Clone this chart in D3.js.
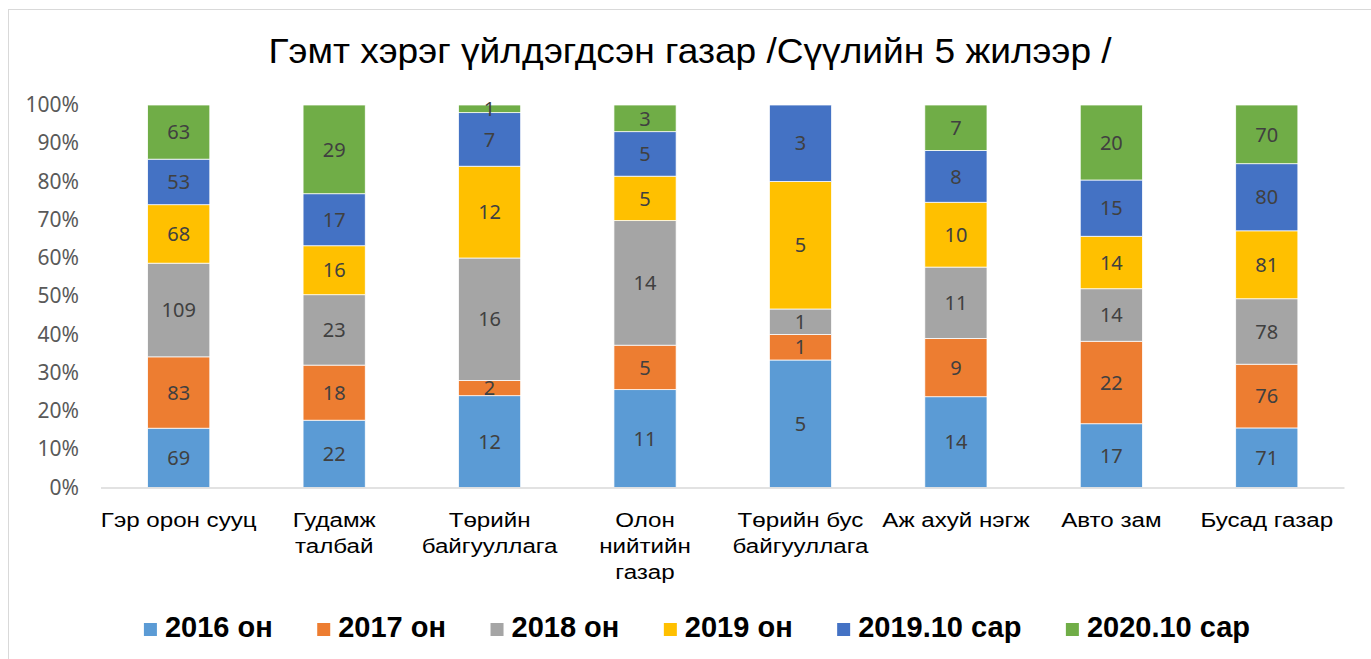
<!DOCTYPE html>
<html>
<head>
<meta charset="utf-8">
<script src="https://cdn.jsdelivr.net/npm/d3@7"></script>
<style>
  html, body { margin: 0; padding: 0; background: #fff; }
  svg { display: block; }
</style>
</head>
<body>
<svg id="chart" width="1371" height="659"></svg>
<script>
// Chart data
const title = 'Гэмт хэрэг үйлдэгдсэн газар /Сүүлийн 5 жилээр /';
const categories = [
  'Гэр орон сууц',
  'Гудамж\nталбай',
  'Төрийн\nбайгууллага',
  'Олон\nнийтийн\nгазар',
  'Төрийн бус\nбайгууллага',
  'Аж ахуй нэгж',
  'Авто зам',
  'Бусад газар'
];
const seriesNames = ['2016 он', '2017 он', '2018 он', '2019 он', '2019.10 сар', '2020.10 сар'];
const seriesColors = ['#5B9BD5', '#ED7D31', '#A5A5A5', '#FFC000', '#4472C4', '#70AD47'];
const v2016 = [69, 22, 12, 11, 5, 14, 17, 71];
const v2017 = [83, 18, 2, 5, 1, 9, 22, 76];
const v2018 = [109, 23, 16, 14, 1, 11, 14, 78];
const v2019 = [68, 16, 12, 5, 5, 10, 14, 81];
const v201910 = [53, 17, 7, 5, 3, 8, 15, 80];
const v202010 = [63, 29, 1, 3, 0, 7, 20, 70];
const yTicks = [0, 0.1, 0.2, 0.3, 0.4, 0.5, 0.6, 0.7, 0.8, 0.9, 1];

const seriesValues = [v2016, v2017, v2018, v2019, v201910, v202010];

// build rows for d3.stack
const rows = categories.map((c, i) => {
  const row = { category: c };
  seriesNames.forEach((s, j) => { row[s] = seriesValues[j][i]; });
  return row;
});

const svg = d3.select('#chart');
const W = 1371, H = 659;
const plot = { left: 101, right: 1344.5, top: 105, bottom: 487.5 };

// outer frame (chart area border)
svg.append('rect')
  .attr('x', 8.5).attr('y', 9.5)
  .attr('width', W + 20).attr('height', H + 20)
  .attr('fill', 'none')
  .attr('stroke', '#d9d9d9')
  .attr('stroke-width', 1);

// title (source text is slightly stretched horizontally)
svg.append('text')
  .attr('transform', 'translate(690,63) scale(1.06,1)')
  .attr('text-anchor', 'middle')
  .style('font-family', '"Liberation Sans", Arial, sans-serif')
  .style('font-size', '35px')
  .style('fill', '#000')
  .text(title);

const x = d3.scaleBand()
  .domain(categories)
  .range([plot.left, plot.right])
  .paddingInner(0.6)
  .paddingOuter(0.3);

const y = d3.scaleLinear()
  .domain([0, 1])
  .range([plot.bottom, plot.top]);

const stack = d3.stack()
  .keys(seriesNames)
  .offset(d3.stackOffsetExpand);
const layers = stack(rows);

// y axis labels (no line, no ticks)
const yAxis = svg.append('g')
  .attr('transform', `translate(${plot.left - 22},0)`)
  .call(d3.axisLeft(y).tickValues(yTicks).tickFormat(d3.format('.0%')).tickSize(0).tickPadding(0));
yAxis.select('.domain').remove();
yAxis.selectAll('text')
  .style('font-family', '"Noto Sans", "Open Sans", sans-serif')
  .style('font-size', '21px')
  .style('fill', '#595959');

// bars
const layerG = svg.append('g')
  .selectAll('g')
  .data(layers)
  .join('g')
  .attr('fill', (d, i) => seriesColors[i]);

layerG.selectAll('rect')
  .data(d => d)
  .join('rect')
  .attr('x', d => x(d.data.category))
  .attr('width', x.bandwidth())
  .attr('y', d => y(d[1]))
  .attr('height', d => y(d[0]) - y(d[1]))
  .attr('stroke', '#fff')
  .attr('stroke-width', 0.75);

// data labels
layers.forEach((layer, i) => {
  svg.append('g')
    .selectAll('text')
    .data(layer.filter(d => d.data[seriesNames[i]] > 0))
    .join('text')
    .attr('x', d => x(d.data.category) + x.bandwidth() / 2)
    .attr('y', d => y((d[0] + d[1]) / 2))
    .attr('dy', '0.36em')
    .attr('text-anchor', 'middle')
    .style('font-family', '"Noto Sans", "Open Sans", sans-serif')
    .style('font-size', '20px')
    .style('fill', '#404040')
    .text(d => d.data[seriesNames[i]]);
});

// category axis line
svg.append('line')
  .attr('x1', plot.left).attr('x2', plot.right)
  .attr('y1', plot.bottom + 0.5).attr('y2', plot.bottom + 0.5)
  .attr('stroke', '#d9d9d9')
  .attr('stroke-width', 1.5);

// category labels, wrapped on \n
const catG = svg.append('g');
categories.forEach(c => {
  const cx = x(c) + x.bandwidth() / 2;
  const t = catG.append('text')
    .attr('transform', `translate(${cx},527) scale(1.15,1)`)
    .attr('text-anchor', 'middle')
    .style('font-family', '"Liberation Sans", Arial, sans-serif')
    .style('font-size', '21px')
    .style('fill', '#000');
  c.split('\n').forEach((line, k) => {
    t.append('tspan')
      .attr('x', 0)
      .attr('y', k * 26)
      .text(line);
  });
});

// legend
const legend = svg.append('g');
const items = seriesNames.map((s, i) => {
  const g = legend.append('g');
  g.append('rect')
    .attr('width', 13).attr('height', 13)
    .attr('y', -14)
    .attr('fill', seriesColors[i]);
  const txt = g.append('text')
    .attr('x', 21)
    .style('font-family', '"Liberation Sans", Arial, sans-serif')
    .style('font-size', '29px')
    .style('font-weight', 'bold')
    .style('fill', '#000')
    .text(s);
  return { g, w: 21 + txt.node().getComputedTextLength() };
});
const gap = 44.5;
const total = d3.sum(items, d => d.w) + gap * (items.length - 1);
let lx = 697 - total / 2;
items.forEach(it => {
  it.g.attr('transform', `translate(${lx},637)`);
  lx += it.w + gap;
});
</script>
</body>
</html>
